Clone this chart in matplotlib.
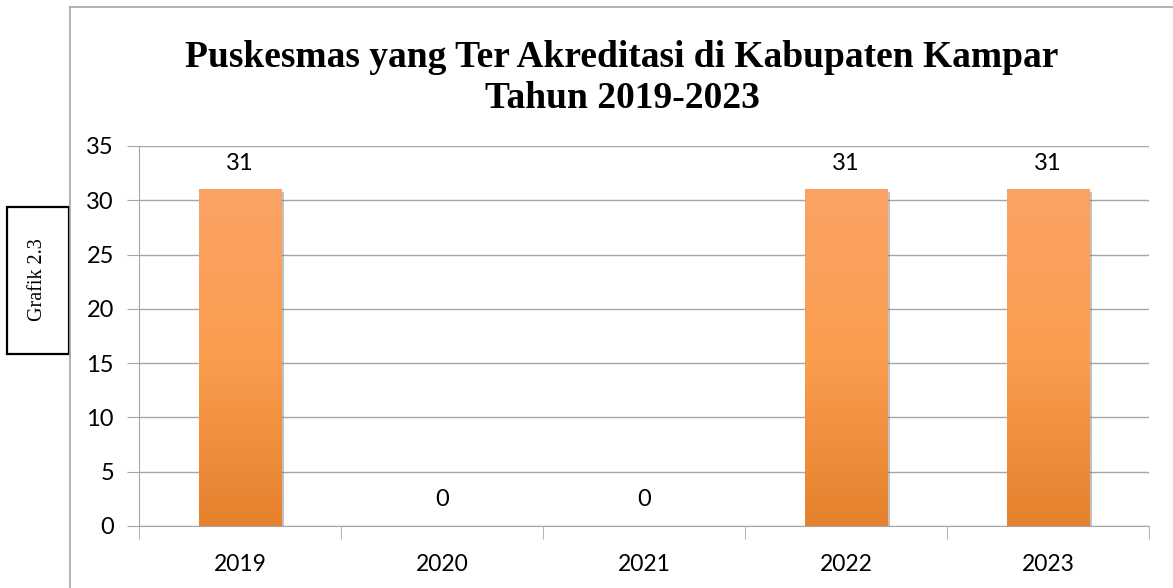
import matplotlib
matplotlib.use("Agg")
import matplotlib.pyplot as plt
import numpy as np
from matplotlib.colors import LinearSegmentedColormap
from matplotlib.patches import Rectangle
import matplotlib.patheffects as pe

years = ["2019", "2020", "2021", "2022", "2023"]
values = [31, 0, 0, 31, 31]
title = "Puskesmas yang Ter Akreditasi di Kabupaten Kampar\nTahun 2019-2023"
side_label = "Grafik 2.3"

W, H = 1173, 588
fig = plt.figure(figsize=(W / 100, H / 100), dpi=100)
fig.patch.set_facecolor("white")

# axes area in pixels
L, R, T, B = 139, 1149, 146, 526
ax = fig.add_axes([L / W, 1 - B / H, (R - L) / W, (B - T) / H])

x = np.arange(len(years))
bars = ax.bar(x, values, width=0.41, color="#F79646", zorder=3,
              path_effects=[pe.SimplePatchShadow(offset=(2, -1.5), shadow_rgbFace="#777777", alpha=0.45), pe.Normal()])

cmap = LinearSegmentedColormap.from_list("og", ["#E6812D", "#FA9D4E", "#FBA366"])
grad = np.linspace(0, 1, 256).reshape(-1, 1)
for b in bars:
    h = b.get_height()
    if h <= 0:
        continue
    x0 = b.get_x()
    im = ax.imshow(grad, extent=(x0, x0 + b.get_width(), 0, h), origin="lower",
                   cmap=cmap, aspect="auto", zorder=4, interpolation="bicubic")
    im.set_clip_path(b)

for xi, v in zip(x, values):
    ax.annotate(str(v), (xi, v), xytext=(0, 19), textcoords="offset points",
                ha="center", va="center", fontsize=17, family="Lato", color="#000000")

ax.set_xlim(-0.5, len(years) - 0.5)
ax.set_ylim(0, 35)
ax.set_yticks(range(0, 36, 5))
ax.set_xticks(x)
ax.set_xticklabels(years)
ax.set_xticks(np.arange(-0.5, len(years), 1), minor=True)
ax.grid(axis="y", color="#A6A6A6", linewidth=1, zorder=0)
for s in ["top", "right"]:
    ax.spines[s].set_visible(False)
ax.spines["left"].set_color("#A6A6A6")
ax.spines["bottom"].set_color("#A6A6A6")
ax.tick_params(axis="y", length=9, color="#A6A6A6", labelsize=17, pad=9)
ax.tick_params(axis="x", which="major", length=0, labelsize=16.5, pad=20)
ax.tick_params(axis="x", which="minor", length=9, color="#A6A6A6")
for lab in ax.get_xticklabels() + ax.get_yticklabels():
    lab.set_family("Lato")

# outer frame lines (left and top)
fig.add_artist(plt.Line2D([70 / W, 70 / W], [0, 1 - 7 / H], color="#A6A6A6", lw=1.2, transform=fig.transFigure))
fig.add_artist(plt.Line2D([70 / W, 1], [1 - 7 / H, 1 - 7 / H], color="#A6A6A6", lw=1.2, transform=fig.transFigure))

fig.text(622 / W, 1 - 78 / H, title, ha="center", va="center", fontsize=27,
         fontweight="bold", family="Liberation Serif", linespacing=1.25)

# side box
fig.add_artist(Rectangle((7 / W, 1 - 354 / H), 62 / W, 147 / H, transform=fig.transFigure,
                         fill=True, facecolor="white", edgecolor="black", lw=1.6))
fig.text(38 / W, 1 - 280 / H, side_label, rotation=90, ha="center", va="center",
         fontsize=14.5, family="Liberation Serif")

fig.savefig("out.png", dpi=100)
